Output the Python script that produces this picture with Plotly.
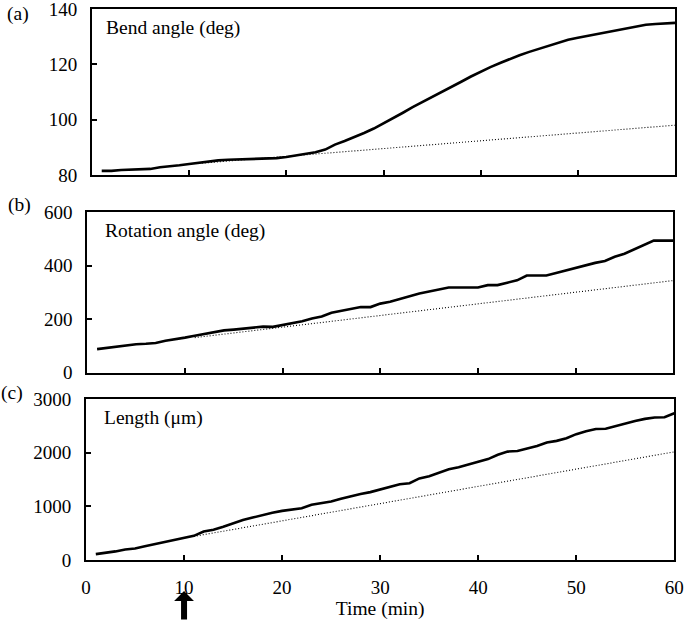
import plotly.graph_objects as go

time_min = list(range(1, 61))

bend_angle = [81.5, 81.5, 81.8, 82.0, 82.0, 82.2, 82.8, 83.1, 83.5, 84.0,
              84.5, 85.0, 85.3, 85.5, 85.6, 85.7, 85.8, 85.9, 86.1, 86.5,
              87.0, 87.6, 88.2, 89.2, 91.0, 92.3, 93.7, 95.2, 96.8, 98.6,
              100.5, 102.5, 104.5, 106.3, 108.1, 109.8, 111.7, 113.7, 115.6, 117.4,
              119.0, 120.5, 122.0, 123.3, 124.5, 125.6, 126.8, 128.0, 128.9, 129.6,
              130.3, 131.0, 131.7, 132.4, 133.1, 133.8, 134.3, 134.6, 134.8, 135.0]

rotation_angle = [88, 93, 98, 101, 106, 108, 111, 119, 124, 131,
                  138, 145, 152, 158, 161, 164, 168, 172, 171, 178,
                  185, 192, 202, 210, 224, 231, 237, 245, 245, 258,
                  265, 275, 287, 296, 303, 310, 318, 318, 318, 318,
                  327, 327, 336, 345, 363, 363, 363, 372, 382, 391,
                  400, 410, 417, 433, 444, 460, 476, 493, 493, 493]

length_um = [110, 130, 160, 195, 215, 255, 295, 335, 375, 410,
             450, 530, 565, 620, 680, 745, 790, 840, 880, 915,
             940, 965, 1030, 1060, 1090, 1140, 1190, 1230, 1265, 1315,
             1366, 1410, 1430, 1520, 1560, 1620, 1690, 1727, 1780, 1830,
             1880, 1960, 2020, 2030, 2070, 2124, 2190, 2220, 2270, 2345,
             2400, 2440, 2445, 2497, 2540, 2590, 2630, 2655, 2660, 2733]

# baseline trend (dotted) lines: start and end values
trend_time = [11, 60]
bend_trend = [84.2, 98.0]
rotation_trend = [131, 344]
length_trend = [440, 2015]

panel_titles = ["Bend angle (deg)", "Rotation angle (deg)", "Length (\u03bcm)"]
panel_letters = ["(a)", "(b)", "(c)"]
y_ticks = [[80, 100, 120, 140], [0, 200, 400, 600], [0, 1000, 2000, 3000]]
x_ticks = [0, 10, 20, 30, 40, 50, 60]
x_title = "Time (min)"
stimulus_time = 10

W, H = 685, 621
FONT = "Liberation Serif"
TICK_SIZE = 19
TEXT_SIZE = 19.5

# plot-area boxes in pixels (left, right, top, bottom)
boxes = [(92, 675, 9, 175), (87.3, 673.3, 212, 372.7), (86, 674.3, 399, 560)]
letter_pos = [(18, 14), (19, 205), (12, 393)]

fig = go.Figure()
series = [bend_angle, rotation_angle, length_um]
trends = [bend_trend, rotation_trend, length_trend]

for i in range(3):
    xa = "x" if i == 0 else f"x{i+1}"
    ya = "y" if i == 0 else f"y{i+1}"
    fig.add_trace(go.Scatter(x=trend_time, y=trends[i], mode="lines", xaxis=xa, yaxis=ya,
                             line=dict(color="black", width=1.1, dash="1px,2px"),
                             showlegend=False, hoverinfo="skip"))
    fig.add_trace(go.Scatter(x=time_min, y=series[i], mode="lines", xaxis=xa, yaxis=ya,
                             line=dict(color="black", width=2.6),
                             showlegend=False))

layout = dict(width=W, height=H, margin=dict(l=0, r=0, t=0, b=0),
              paper_bgcolor="white", plot_bgcolor="white",
              font=dict(family=FONT, size=TICK_SIZE, color="black"),
              showlegend=False)

annotations = []
for i, (l, r, t, b) in enumerate(boxes):
    xkey = "xaxis" if i == 0 else f"xaxis{i+1}"
    ykey = "yaxis" if i == 0 else f"yaxis{i+1}"
    yanchor = "y" if i == 0 else f"y{i+1}"
    xanchor = "x" if i == 0 else f"x{i+1}"
    layout[xkey] = dict(domain=[l / W, r / W], anchor=yanchor, range=[0, 60],
                        tickvals=x_ticks, ticks="inside", ticklen=5, tickwidth=1.5,
                        tickcolor="black", showline=True, linecolor="black",
                        linewidth=1.8, mirror=True, showgrid=False, zeroline=False,
                        showticklabels=(i == 2), ticklabelstandoff=9,
                        ticklabeloverflow="allow",
                        tickfont=dict(family=FONT, size=TICK_SIZE, color="black"),
                        automargin=False)
    layout[ykey] = dict(domain=[1 - b / H, 1 - t / H], anchor=xanchor,
                        range=[y_ticks[i][0], y_ticks[i][-1]], tickvals=y_ticks[i],
                        ticks="inside", ticklen=5, tickwidth=1.5, tickcolor="black",
                        showline=True, linecolor="black", linewidth=1.8, mirror=True,
                        showgrid=False, zeroline=False, ticklabelstandoff=9,
                        ticklabeloverflow="allow",
                        tickfont=dict(family=FONT, size=TICK_SIZE, color="black"),
                        automargin=False)
    if i == 2:
        layout[xkey]["title"] = dict(text=x_title, standoff=0,
                                     font=dict(family=FONT, size=TEXT_SIZE, color="black"))
    annotations.append(dict(text=panel_titles[i], xref="paper", yref="paper",
                            x=(l + 12) / W if i == 0 else (l + 16) / W,
                            y=1 - (t + 19) / H, xanchor="left",
                            yanchor="middle", showarrow=False,
                            font=dict(family=FONT, size=TEXT_SIZE, color="black")))
    lx, ly = letter_pos[i]
    annotations.append(dict(text=panel_letters[i], xref="paper", yref="paper",
                            x=lx / W, y=1 - ly / H, xanchor="center",
                            yanchor="middle", showarrow=False,
                            font=dict(family=FONT, size=TEXT_SIZE, color="black")))

annotations.append(dict(text="", xref="x3", yref="paper", x=stimulus_time,
                        y=1 - 591 / H, showarrow=True, arrowhead=1, arrowsize=0.55,
                        arrowwidth=6, arrowcolor="black", ax=0, ay=40,
                        standoff=0, startstandoff=0))

layout["annotations"] = annotations
fig.update_layout(**layout)
fig.write_html("out.html", config={"displayModeBar": False},
               post_script="document.body.style.margin='0';document.body.style.overflow='hidden';")
